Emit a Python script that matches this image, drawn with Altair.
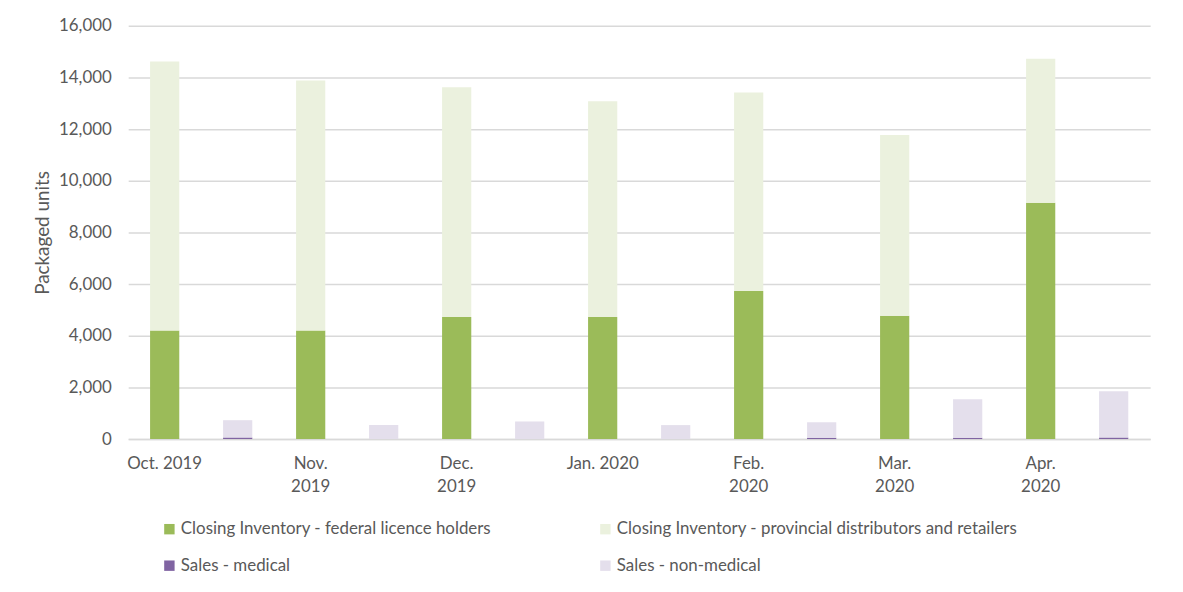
import altair as alt
import pandas as pd

months = ["Oct. 2019", "Nov. 2019", "Dec. 2019", "Jan. 2020", "Feb. 2020", "Mar. 2020", "Apr. 2020"]
wrapped = [False, True, True, False, True, True, True]
federal = [4200, 4200, 4730, 4730, 5730, 4770, 9150]
provincial = [10420, 9680, 8890, 8350, 7690, 7000, 5580]
medical = [60, 0, 0, 0, 50, 50, 60]
non_medical = [670, 540, 680, 540, 600, 1490, 1790]

series_names = [
    "Closing Inventory - federal licence holders",
    "Closing Inventory - provincial distributors and retailers",
    "Sales - medical",
    "Sales - non-medical",
]
series_colors = ["#9BBB59", "#EBF1DE", "#8064A2", "#E4DFEC"]
# legend fills column by column: order so rows read federal|provincial, medical|non-medical
legend_order = [0, 2, 1, 3]

rows = []
slots = []
for i, m in enumerate(months):
    inv_key = m
    sal_key = m + " sales"
    slots += [inv_key, sal_key]
    rows.append({"slot": inv_key, "series": series_names[0], "value": federal[i], "ord": 0})
    rows.append({"slot": inv_key, "series": series_names[1], "value": provincial[i], "ord": 1})
    rows.append({"slot": sal_key, "series": series_names[2], "value": medical[i], "ord": 0})
    rows.append({"slot": sal_key, "series": series_names[3], "value": non_medical[i], "ord": 1})
df = pd.DataFrame(rows)

wrap_list = [m for m, w in zip(months, wrapped) if w]
wrap_cond = " || ".join(f"datum.value == '{m}'" for m in wrap_list)
label_expr = f"slice(datum.value, -5) == 'sales' ? '' : (({wrap_cond}) ? split(datum.value, ' ') : datum.value)"

FONT = "Lato"
TXT = "#595959"

dom = [series_names[k] for k in legend_order]
rng = [series_colors[k] for k in legend_order]

chart = alt.Chart(df).mark_bar().encode(
    x=alt.X("slot:N", sort=slots, title=None,
            scale=alt.Scale(domain=slots, paddingInner=0.6, paddingOuter=0.3),
            axis=alt.Axis(labelExpr=label_expr, labelAngle=0, ticks=False,
                          domainColor="#D9D9D9", domainWidth=1.5, labelPadding=17,
                          labelFontSize=17, labelColor=TXT, labelFont=FONT,
                          labelLineHeight=23, labelBaseline="top")),
    y=alt.Y("value:Q", stack="zero", title="Packaged units",
            scale=alt.Scale(domain=[0, 16000]),
            axis=alt.Axis(values=list(range(0, 16001, 2000)), format=",d", ticks=False, domain=False,
                          gridColor="#D9D9D9", gridWidth=1.5, labelPadding=17,
                          labelFontSize=17, labelColor=TXT, labelFont=FONT,
                          titleFontSize=19, titleColor=TXT, titleFont=FONT, titleFontWeight="normal",
                          titleX=-86, titleBaseline="middle")),
    color=alt.Color("series:N",
                    scale=alt.Scale(domain=dom, range=rng),
                    legend=alt.Legend(title=None, orient="none", legendX=33, legendY=498,
                                      columns=2, columnPadding=106, rowPadding=19,
                                      symbolType="square", symbolSize=110, symbolStrokeWidth=0,
                                      labelFontSize=17, labelColor=TXT, labelFont=FONT,
                                      labelOffset=3, labelLimit=0)),
    order=alt.Order("ord:Q"),
).properties(
    width=1029, height=416,
    autosize=alt.AutoSizeParams(type="none"),
    padding={"left": 121, "top": 16, "right": 25, "bottom": 150},
).configure(font=FONT).configure_view(strokeWidth=0, stroke="transparent")

chart.save("out.html", embed_options={"renderer": "svg", "actions": False})
